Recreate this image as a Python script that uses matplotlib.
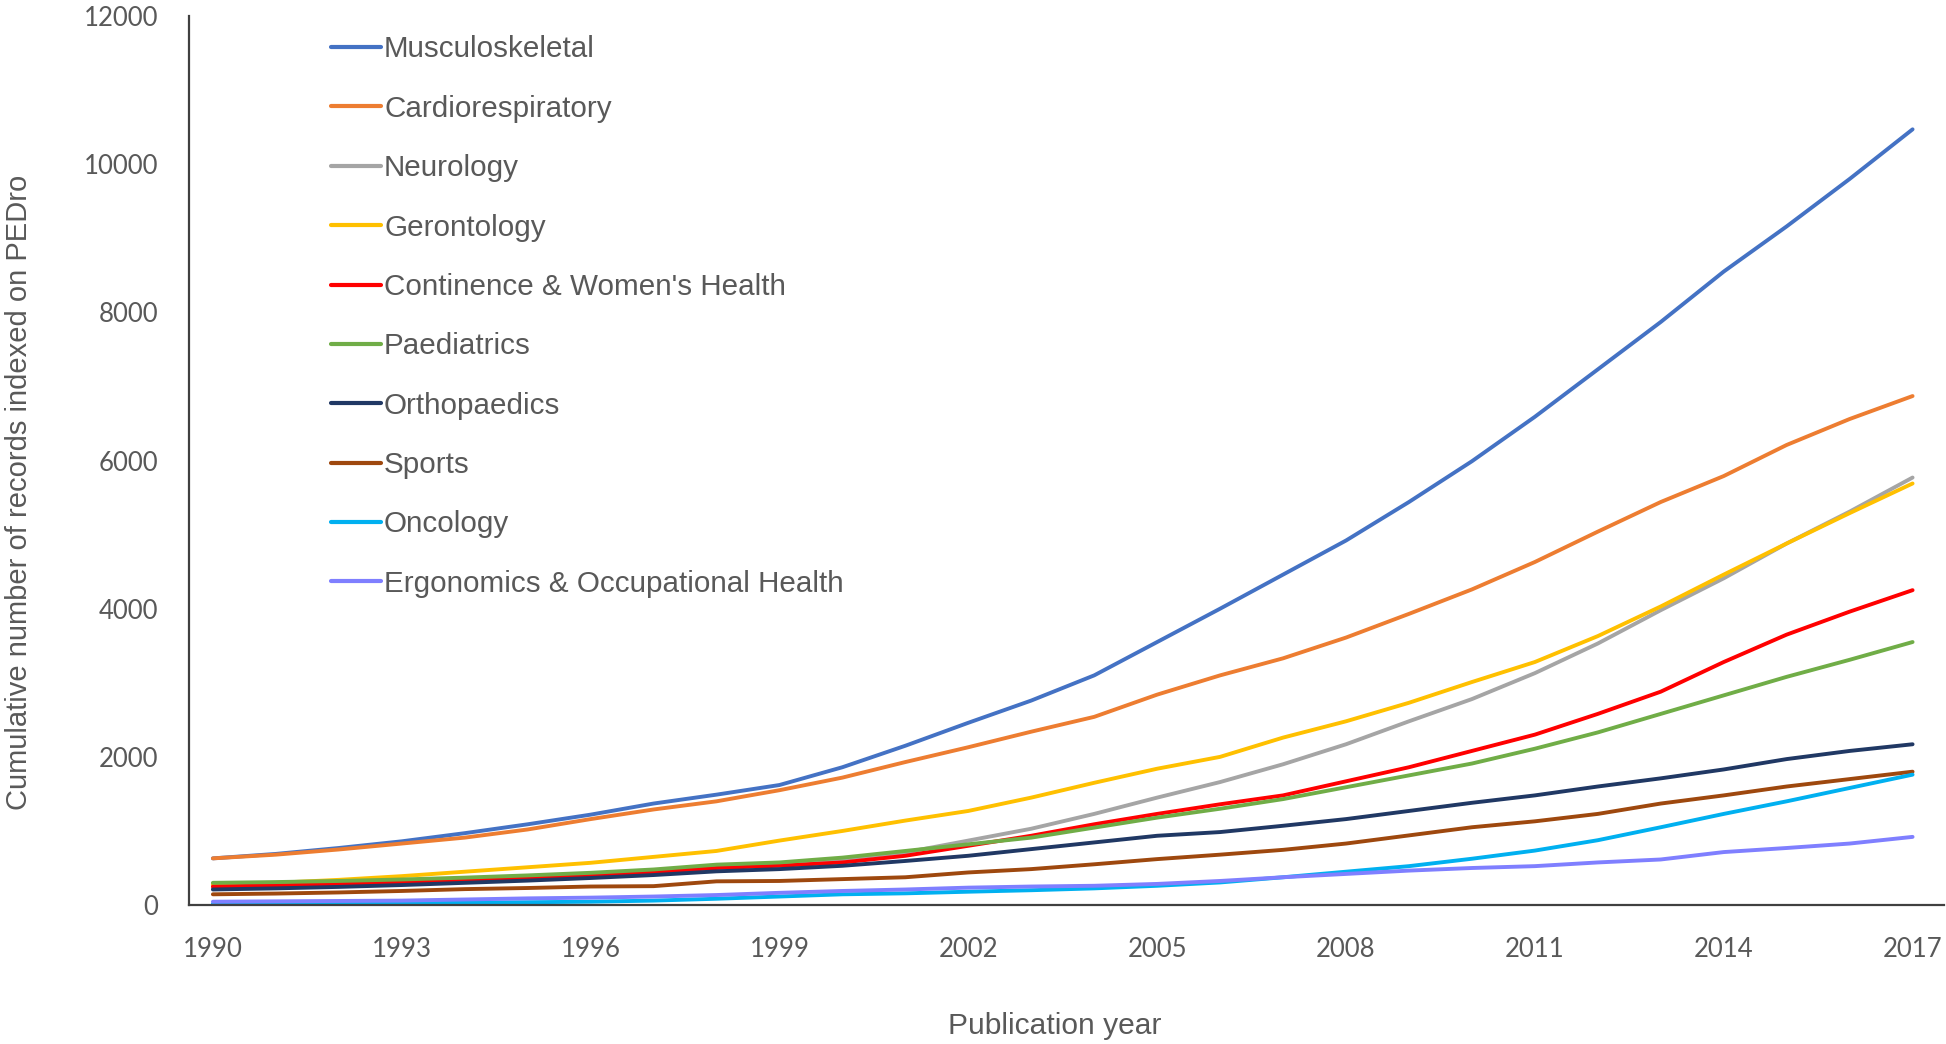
import matplotlib
matplotlib.use("Agg")
import matplotlib.pyplot as plt

years = list(range(1990, 2018))

musculoskeletal = [630, 690, 770, 860, 970, 1090, 1220, 1370, 1490, 1620, 1860, 2150, 2460, 2760,
                   3100, 3550, 4000, 4460, 4920, 5440, 5990, 6590, 7230, 7870, 8550, 9160, 9800, 10470]
cardiorespiratory = [630, 680, 750, 830, 910, 1020, 1160, 1290, 1400, 1550, 1720, 1930, 2130, 2340,
                     2540, 2840, 3100, 3330, 3610, 3930, 4260, 4630, 5040, 5440, 5790, 6210, 6560, 6870]
neurology = [230, 250, 280, 310, 350, 390, 420, 460, 510, 550, 620, 710, 870, 1030,
             1230, 1450, 1660, 1900, 2170, 2480, 2780, 3130, 3530, 3980, 4410, 4880, 5310, 5770]
gerontology = [280, 300, 340, 390, 450, 510, 570, 650, 730, 870, 1000, 1140, 1270, 1450,
               1650, 1840, 2000, 2260, 2480, 2730, 3010, 3280, 3630, 4030, 4460, 4880, 5290, 5690]
continence = [250, 265, 285, 305, 335, 365, 400, 445, 500, 530, 575, 665, 800, 935,
              1090, 1230, 1360, 1480, 1670, 1860, 2080, 2300, 2580, 2880, 3280, 3650, 3960, 4250]
paediatrics = [300, 310, 325, 345, 370, 400, 435, 480, 545, 575, 640, 730, 820, 910,
               1045, 1180, 1300, 1430, 1590, 1750, 1910, 2110, 2330, 2580, 2830, 3080, 3310, 3550]
orthopaedics = [210, 225, 245, 270, 300, 330, 365, 405, 455, 485, 530, 595, 665, 755,
                845, 935, 985, 1070, 1160, 1270, 1380, 1480, 1600, 1710, 1830, 1970, 2080, 2170]
sports = [145, 155, 170, 190, 215, 230, 250, 255, 320, 325, 350, 375, 440, 485,
          550, 620, 680, 745, 830, 940, 1050, 1130, 1230, 1370, 1480, 1600, 1700, 1800]
oncology = [15, 18, 20, 25, 30, 38, 45, 60, 85, 115, 145, 158, 180, 200,
            225, 260, 305, 375, 450, 525, 625, 735, 875, 1050, 1230, 1400, 1580, 1760]
ergonomics = [45, 50, 55, 60, 75, 90, 100, 115, 135, 165, 190, 210, 235, 250,
              260, 285, 325, 375, 420, 465, 500, 525, 575, 615, 715, 770, 830, 920]

series = [
    ("Musculoskeletal", musculoskeletal, "#4472C4"),
    ("Cardiorespiratory", cardiorespiratory, "#ED7D31"),
    ("Neurology", neurology, "#A5A5A5"),
    ("Gerontology", gerontology, "#FFC000"),
    ("Continence & Women's Health", continence, "#FF0000"),
    ("Paediatrics", paediatrics, "#70AD47"),
    ("Orthopaedics", orthopaedics, "#203864"),
    ("Sports", sports, "#9E480E"),
    ("Oncology", oncology, "#00B0F0"),
    ("Ergonomics & Occupational Health", ergonomics, "#7F7FFF"),
]

x_ticks = list(range(1990, 2018, 3))
y_ticks = list(range(0, 12001, 2000))

text_grey = "#595959"

fig = plt.figure(figsize=(19.46, 10.44), dpi=100)
ax = fig.add_axes([0.0971, 0.1331, 0.9019, 0.8516])

for name, vals, col in series:
    ax.plot(years, vals, color=col, lw=2.8, label=name, solid_capstyle="round")

ax.set_xlim(1989.62, 2017.5)
ax.set_ylim(0, 12000)
ax.set_xticks(x_ticks)
ax.set_yticks(y_ticks)

for s in ["top", "right"]:
    ax.spines[s].set_visible(False)
for s in ["left", "bottom"]:
    ax.spines[s].set_color("#404040")
    ax.spines[s].set_linewidth(1.6)

ax.tick_params(length=0, labelsize=18.5, labelcolor=text_grey)
ax.tick_params(axis="x", pad=23)
ax.tick_params(axis="y", pad=22)
for lab in ax.get_xticklabels() + ax.get_yticklabels():
    lab.set_family(["Lato", "DejaVu Sans"])

ax.set_xlabel("Publication year", fontsize=21.6, color=text_grey,
              family=["Liberation Sans", "DejaVu Sans"])
ax.xaxis.set_label_coords(0.493, -0.12)
ax.set_ylabel("Cumulative number of records indexed on PEDro", fontsize=21, color=text_grey,
              family=["Liberation Sans Narrow", "Liberation Sans", "DejaVu Sans"])
ax.yaxis.set_label_coords(-0.089, 0.464)

leg = ax.legend(loc="upper left", bbox_to_anchor=(0.066, 1.008), frameon=False,
                prop={"family": "Liberation Sans", "size": 21.3},
                handlelength=1.68, handletextpad=0.1, labelspacing=1.06)
for t in leg.get_texts():
    t.set_color(text_grey)
for h in leg.get_lines():
    h.set_linewidth(3)

fig.savefig("out.png", dpi=100)
